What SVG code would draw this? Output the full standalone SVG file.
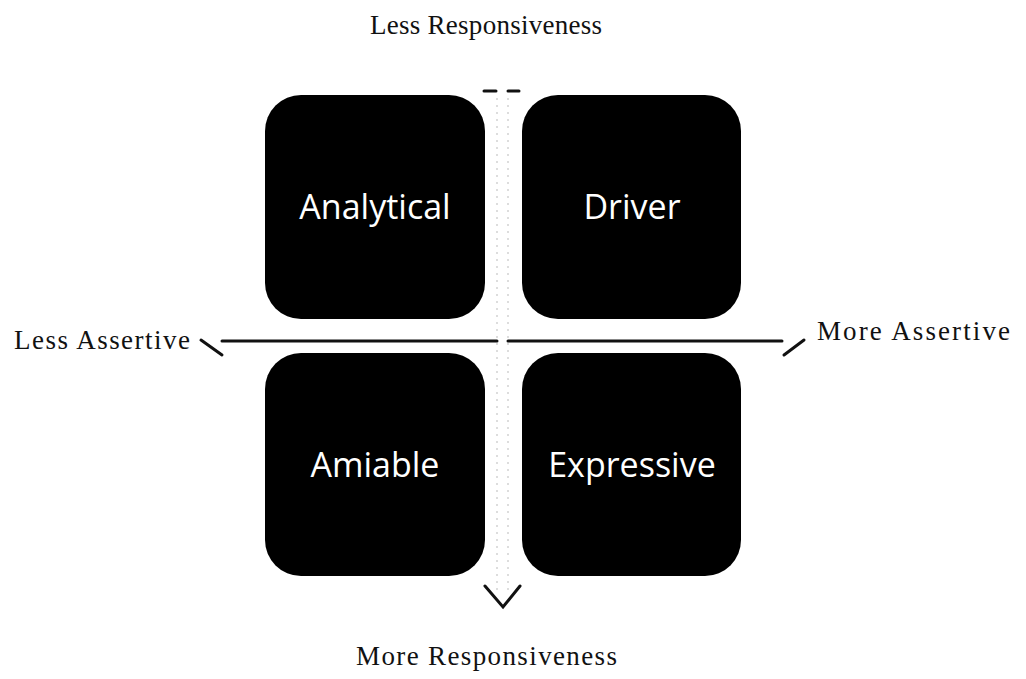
<svg xmlns="http://www.w3.org/2000/svg" width="1026" height="679" viewBox="0 0 1026 679">
<style>
.box{fill:#000;}
.lbl{font-family:"Open Sans","Liberation Sans",sans-serif;font-size:34px;fill:#fff;text-anchor:middle;}
.ax{font-family:"Liberation Serif","Times New Roman",serif;font-size:27px;fill:#111;}
.line{stroke:#111;stroke-width:3;fill:none;stroke-linecap:round;}
.vline{stroke:#bbb;stroke-width:1;stroke-dasharray:2 5;fill:none;}
</style>
<rect width="1026" height="679" fill="#fff"/>
<g id="connectors">
<line class="line" x1="222" y1="341" x2="497" y2="341"/>
<line class="line" x1="508" y1="341" x2="782" y2="341"/>
<line class="line" x1="201" y1="340" x2="222" y2="355"/>
<line class="line" x1="804" y1="340" x2="784" y2="355"/>
<line class="vline" x1="497" y1="98" x2="497" y2="590"/>
<line class="vline" x1="508" y1="98" x2="508" y2="590"/>
<line class="line" stroke-width="2.5" x1="484" y1="91" x2="496" y2="91"/>
<line class="line" stroke-width="2.5" x1="508" y1="91" x2="519" y2="91"/>
<polyline class="line" stroke-width="2" points="485,586 503,607 520,586"/>
</g>
<g id="analytical">
<rect class="box" x="265" y="95" width="220" height="224" rx="36"/>
<text class="lbl" x="375" y="219">Analytical</text>
</g>
<g id="driver">
<rect class="box" x="522" y="95" width="219" height="224" rx="36"/>
<text class="lbl" x="632" y="219">Driver</text>
</g>
<g id="amiable">
<rect class="box" x="265" y="353" width="220" height="223" rx="36"/>
<text class="lbl" x="375" y="477">Amiable</text>
</g>
<g id="expressive">
<rect class="box" x="522" y="353" width="219" height="223" rx="36"/>
<text class="lbl" x="632" y="477">Expressive</text>
</g>
<g id="axis-labels">
<text class="ax" x="370" y="34" textLength="232" lengthAdjust="spacing">Less Responsiveness</text>
<text class="ax" x="356" y="665" textLength="261" lengthAdjust="spacing">More Responsiveness</text>
<text class="ax" x="14" y="349" textLength="176" lengthAdjust="spacing">Less Assertive</text>
<text class="ax" x="817" y="340" textLength="193" lengthAdjust="spacing">More Assertive</text>
</g>
</svg>
